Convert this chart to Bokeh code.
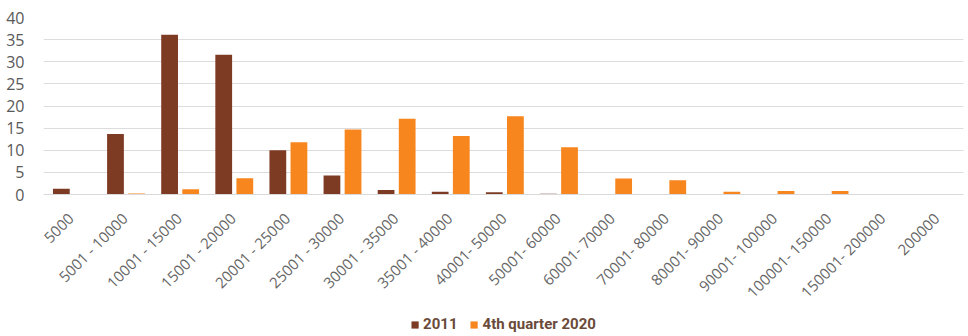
import math
from bokeh.plotting import figure
from bokeh.layouts import column
from bokeh.models import ColumnDataSource, FactorRange, Range1d, FixedTicker, Legend, LegendItem
from bokeh.transform import dodge
from bokeh.embed import file_html
from bokeh.resources import INLINE

categories = ["5000", "5001 - 10000", "10001 - 15000", "15001 - 20000", "20001 - 25000",
              "25001 - 30000", "30001 - 35000", "35001 - 40000", "40001- 50000", "50001- 60000",
              "60001- 70000", "70001- 80000", "80001- 90000", "90001- 100000", "100001- 150000",
              "150001- 200000", "200000"]
values_2011 = [1.3, 13.7, 36.1, 31.6, 10.0, 4.3, 1.0, 0.6, 0.5, 0.15, 0.05, 0, 0, 0, 0, 0, 0]
values_2020 = [0, 0.2, 1.2, 3.7, 11.8, 14.7, 17.1, 13.2, 17.7, 10.7, 3.6, 3.2, 0.6, 0.8, 0.8, 0, 0]
series_names = ["2011", "4th quarter 2020"]
series_colors = ["#7E3B24", "#F7861E"]
y_ticks = [0, 5, 10, 15, 20, 25, 30, 35, 40]

W = 964

src = ColumnDataSource(dict(cat=categories, a=values_2011, b=values_2020))

p = figure(x_range=FactorRange(*categories, range_padding=0), y_range=Range1d(0, 40),
           width=W, height=314, output_backend="svg", toolbar_location=None,
           min_border_left=43, min_border_right=1, min_border_top=17, min_border_bottom=120)

p.vbar(x=dodge("cat", -0.17, range=p.x_range), top="a", width=0.31, source=src,
       fill_color=series_colors[0], line_color=None)
p.vbar(x=dodge("cat", 0.22, range=p.x_range), top="b", width=0.31, source=src,
       fill_color=series_colors[1], line_color=None)

p.outline_line_color = None
p.xgrid.grid_line_color = None
p.ygrid.grid_line_color = "#DCDCDC"
p.ygrid.ticker = FixedTicker(ticks=y_ticks)

p.yaxis.ticker = FixedTicker(ticks=y_ticks)
p.yaxis.axis_line_color = None
p.yaxis.major_tick_line_color = None
p.yaxis.minor_tick_line_color = None
p.yaxis.major_label_text_font = "Open Sans"
p.yaxis.major_label_text_font_size = "16px"
p.yaxis.major_label_text_color = "#595959"
p.yaxis.major_label_standoff = 13

p.xaxis.axis_line_color = "#D9D9D9"
p.xaxis.major_tick_line_color = None
p.xaxis.minor_tick_line_color = None
p.xaxis.major_label_orientation = math.pi / 4
p.xaxis.major_label_text_font = "Open Sans"
p.xaxis.major_label_text_font_size = "15px"
p.xaxis.major_label_text_color = "#666666"
p.xaxis.major_label_standoff = 15

# legend strip (swatch renderers lie outside the strip's visible range)
lg = figure(width=W, height=20, output_backend="svg", toolbar_location=None,
            x_range=Range1d(0, 1), y_range=Range1d(0, 1),
            x_axis_location=None, y_axis_location=None,
            min_border_left=0, min_border_right=0, min_border_top=0, min_border_bottom=0)
lg.grid.visible = False
lg.outline_line_color = None
rl1 = lg.vbar(x=[0.5], bottom=[-6], top=[-5], width=0.1, fill_color=series_colors[0], line_color=None)
rl2 = lg.vbar(x=[0.5], bottom=[-6], top=[-5], width=0.1, fill_color=series_colors[1], line_color=None)
legend = Legend(items=[LegendItem(label=series_names[0], renderers=[rl1]),
                       LegendItem(label=series_names[1], renderers=[rl2])],
                orientation="horizontal", location="center",
                border_line_color=None, background_fill_alpha=0,
                padding=0, margin=0, spacing=12,
                glyph_width=9, glyph_height=9, label_height=14, label_standoff=4,
                label_text_font="Roboto", label_text_font_style="bold",
                label_text_font_size="15px", label_text_color="#6B4A3A")
lg.add_layout(legend, "center")

layout = column(p, lg, spacing=0)
open("out.html", "w").write(file_html(layout, INLINE))
